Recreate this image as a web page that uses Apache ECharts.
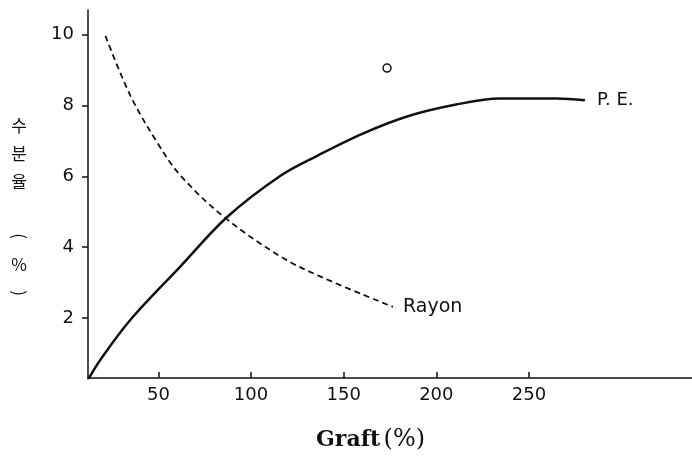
<!DOCTYPE html>
<html>
<head>
<meta charset="utf-8">
<script src="https://cdn.jsdelivr.net/npm/echarts@6/dist/echarts.min.js"></script>
<style>
  html, body { margin: 0; padding: 0; background: #fff; }
  #chart { width: 692px; height: 461px; }
</style>
</head>
<body>
<div id="chart"></div>
<script>
// values
const xTicks = [50, 100, 150, 200, 250];
const yTicks = [2, 4, 6, 8, 10];
const peData = [
  [12, 0.25], [18.6, 0.81], [34.8, 1.94], [61.8, 3.45], [87.1, 4.85],
  [115.7, 6.01], [135.7, 6.58], [160, 7.2], [184.2, 7.69], [210, 8.02],
  [234.3, 8.2], [265.1, 8.2], [280.2, 8.15]
];
const rayonData = [
  [21.4, 9.97], [34.8, 8.29], [49.4, 6.95], [61.8, 6.03], [85.0, 4.87],
  [115.7, 3.74], [137.3, 3.17], [176.6, 2.31]
];
const markPoint = [[173.4, 9.06]];

const chart = echarts.init(document.getElementById('chart'));

// vertical y-axis title, one glyph per line, brackets turned sideways
const titleFont = '17px "Noto Sans CJK KR"';
const yTitle = [
  { text: '수', y: 126, rot: 0 },
  { text: '분', y: 154, rot: 0 },
  { text: '율', y: 182, rot: 0 },
  { text: '(', y: 236, rot: -Math.PI / 2 },
  { text: '%', y: 265, rot: 0 },
  { text: ')', y: 293, rot: -Math.PI / 2 }
];

const option = {
  backgroundColor: '#fff',
  animation: false,
  grid: { left: 88, right: 0, top: 10, bottom: 83 },
  xAxis: {
    type: 'value',
    min: 12,
    max: 338,
    axisLine: { lineStyle: { color: '#111', width: 1.5 } },
    axisTick: { inside: true, length: 6, customValues: xTicks, lineStyle: { color: '#111', width: 1.5 } },
    axisLabel: { customValues: xTicks, color: '#111', fontSize: 18, fontFamily: 'DejaVu Sans', margin: 8 },
    splitLine: { show: false }
  },
  yAxis: {
    type: 'value',
    min: 0.3,
    max: 10.7,
    axisLine: { show: true, lineStyle: { color: '#111', width: 1.5 } },
    axisTick: { show: true, length: 6, customValues: yTicks, lineStyle: { color: '#111', width: 1.5 } },
    axisLabel: { customValues: yTicks, color: '#111', fontSize: 18, fontFamily: 'DejaVu Sans', margin: 14 },
    splitLine: { show: false }
  },
  graphic: yTitle.map(function (t) {
    return {
      type: 'text',
      x: 19,
      y: t.y,
      rotation: t.rot,
      style: { text: t.text, font: titleFont, align: 'center', verticalAlign: 'middle', fill: '#111' }
    };
  }).concat([
    {
      type: 'text',
      left: 316,
      top: 428,
      style: {
        rich: {
          b: { font: 'bold 22px "DejaVu Serif"', fill: '#111' },
          n: { font: '24px "DejaVu Serif"', fill: '#111' }
        },
        text: '{b|Graft} {n|(%)}'
      }
    }
  ]),
  series: [
    {
      name: 'P. E.',
      type: 'line',
      data: peData,
      smooth: 0.35,
      symbol: 'none',
      lineStyle: { color: '#111', width: 2.5 },
      endLabel: { show: true, formatter: 'P. E.', color: '#111', fontSize: 18, fontFamily: 'DejaVu Sans', distance: 12 }
    },
    {
      name: 'Rayon',
      type: 'line',
      data: rayonData,
      smooth: 0.35,
      symbol: 'none',
      lineStyle: { color: '#111', width: 1.8, type: [6, 4] },
      endLabel: { show: true, formatter: 'Rayon', color: '#111', fontSize: 19, fontFamily: 'DejaVu Sans', distance: 10 }
    },
    {
      name: 'point',
      type: 'scatter',
      data: markPoint,
      symbol: 'circle',
      symbolSize: 8,
      z: 10,
      itemStyle: { color: '#fff', borderColor: '#111', borderWidth: 1.5, opacity: 1 }
    }
  ]
};

chart.setOption(option);
</script>
</body>
</html>
